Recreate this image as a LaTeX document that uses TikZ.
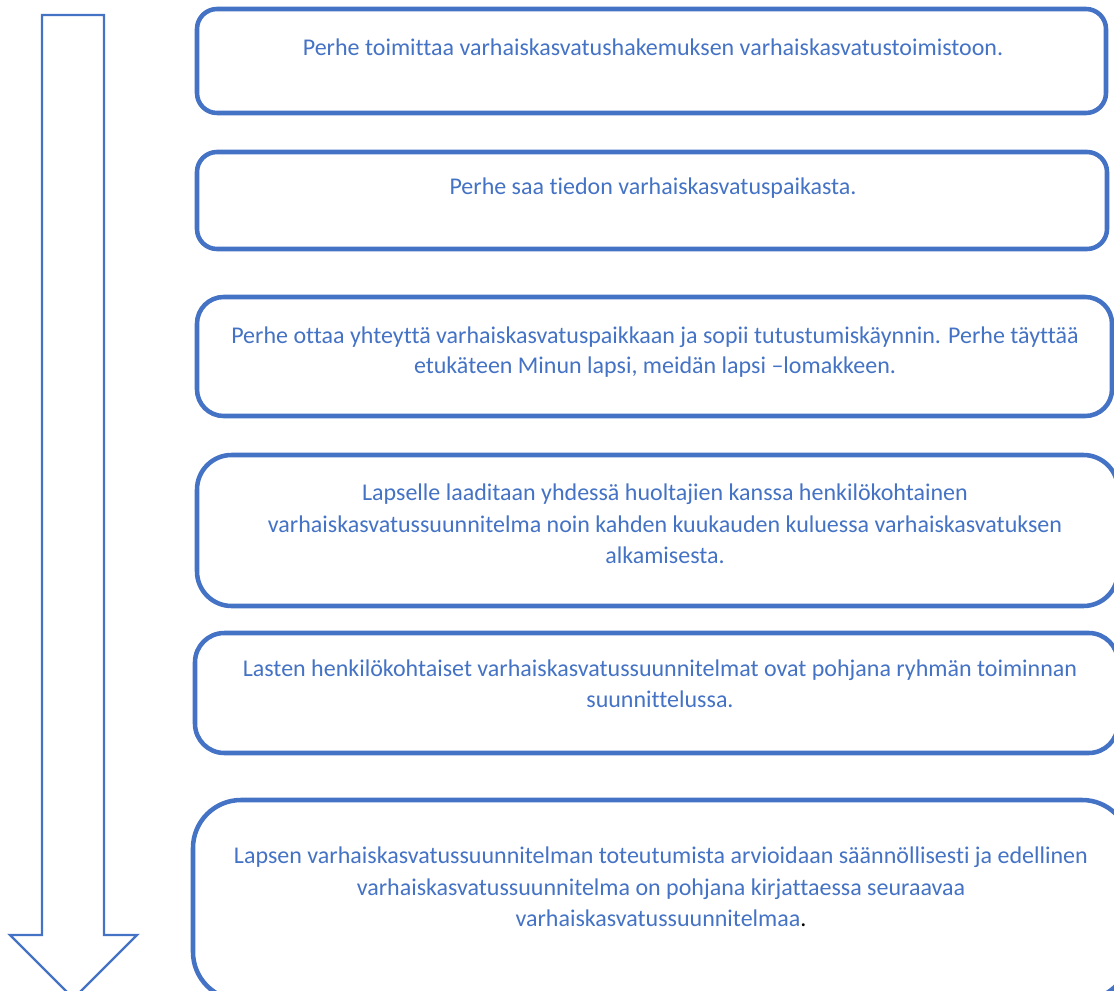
\documentclass[tikz,border=0pt]{standalone}
\usepackage{fontspec}
\setmainfont{Carlito}[Ligatures={NoCommon}]
\definecolor{wordblue}{HTML}{4472C4}
\tikzset{
	stepbox/.style={line width=3.4pt, draw=wordblue},
	steptext/.style={align=center, text=wordblue, font=\fontsize{18}{23.5}\selectfont},
	arrowline/.style={line width=1.8pt, draw=wordblue, line join=miter}
}

\begin{document}
\begin{tikzpicture}[x=0.75pt, y=-0.75pt]
		\useasboundingbox (0,0) rectangle (1114,991);
		\clip (0,0) rectangle (1114,991);

		% Big arrow
		\draw[arrowline] (42,15) -- (104,15) -- (104,935) -- (137,935) -- (73.5,998.5) -- (10,935) -- (42,935) -- cycle;

		% Boxes
		\draw[stepbox, rounded corners=15] (197,9) rectangle (1106,113);
		\draw[stepbox, rounded corners=15] (197,152) rectangle (1107,249);
		\draw[stepbox, rounded corners=20] (197,297) rectangle (1112,416);
		\draw[stepbox, rounded corners=26] (197,455) rectangle (1118,606);
		\draw[stepbox, rounded corners=22] (195,633) rectangle (1118,753);
		\draw[stepbox, rounded corners=36] (193,800) rectangle (1130,1000);

		% Texts
		\node[steptext] (t1) at (653,47) {Perhe toimittaa varhaiskasvatushakemuksen varhaiskasvatustoimistoon.};
		\node[steptext] (t2) at (653,188) {Perhe saa tiedon varhaiskasvatuspaikasta.};
		\node[steptext, font=\fontsize{18}{22}\selectfont] (t3) at (655,352) {Perhe ottaa yhteyttä varhaiskasvatuspaikkaan ja sopii tutustumiskäynnin. Perhe täyttää\\etukäteen Minun lapsi, meidän lapsi –lomakkeen.};
		\node[steptext] (t4) at (665,524) {Lapselle laaditaan yhdessä huoltajien kanssa henkilökohtainen\\varhaiskasvatussuunnitelma noin kahden kuukauden kuluessa varhaiskasvatuksen\\alkamisesta.};
		\node[steptext] (t5) at (660,684) {Lasten henkilökohtaiset varhaiskasvatussuunnitelmat ovat pohjana ryhmän toiminnan\\suunnittelussa.};
		\node[steptext] (t6) at (661,887) {Lapsen varhaiskasvatussuunnitelman toteutumista arvioidaan säännöllisesti ja edellinen\\varhaiskasvatussuunnitelma on pohjana kirjattaessa seuraavaa\\varhaiskasvatussuunnitelmaa{\color{black}.}};
	\end{tikzpicture}
\end{document}
